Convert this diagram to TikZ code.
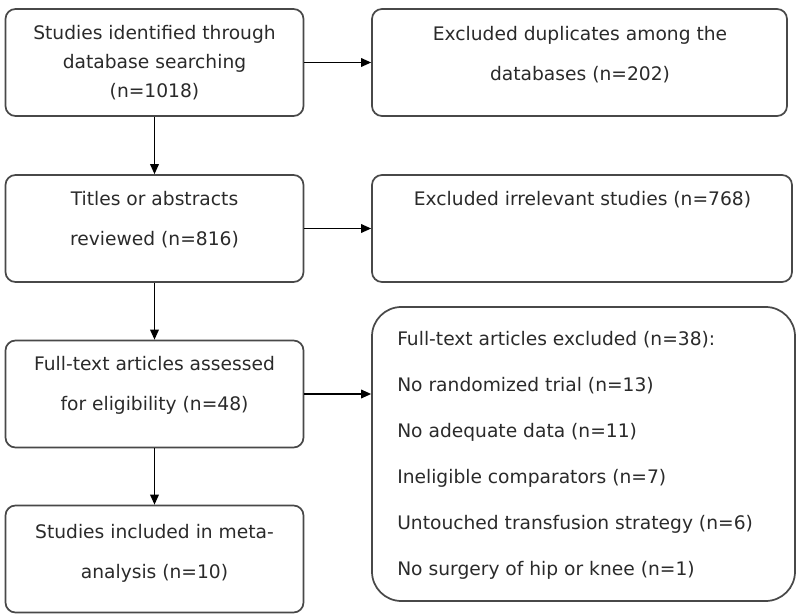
\documentclass[tikz,border=0pt]{standalone}
\usepackage{fontspec}
\setmainfont{DejaVu Sans}
\usetikzlibrary{arrows.meta}
\definecolor{boxgray}{HTML}{484848}
\definecolor{txtgray}{HTML}{2A2A2A}
\begin{document}
\begin{tikzpicture}[x=0.75pt,y=-0.75pt,
    box/.style={draw=boxgray,line width=1.3pt,rounded corners=7.5pt,
      minimum width=223.5pt,minimum height=80.25pt,inner sep=0pt},
    txt/.style={inner sep=0pt,text=txtgray,align=center,
      font=\fontsize{14}{30}\selectfont},
    arr/.style={-{Triangle[length=7.5pt,width=6.5pt]},line width=1pt}]
  \useasboundingbox (0,0) rectangle (800,616);

  % left column
  \foreach[count=\i] \y in {62.5,228.5,394,559} {
    \node[box] (l\i) at (154.5,\y) {};
  }
  \node[txt,font=\fontsize{14}{21.75}\selectfont] (lt1) at (154.5,62.5)
    {Studies identified through\\database searching\\(n=1018)};
  \node[txt] (lt2) at (154.5,220) {Titles or abstracts\\reviewed (n=816)};
  \node[txt] (lt3) at (154.5,385) {Full-text articles assessed\\for eligibility (n=48)};
  \node[txt] (lt4) at (154.5,553) {Studies included in meta-\\analysis (n=10)};

  % right column
  \node[box,minimum width=311.25pt] (r1) at (579.5,62.5) {};
  \node[txt] (rt1) at (580,55) {Excluded duplicates among the\\databases (n=202)};
  \node[box,minimum width=315pt] (r2) at (582,228.5) {};
  \node[txt] (rt2) at (582.5,200) {Excluded irrelevant studies (n=768)};
  \node[box,minimum width=317.25pt,minimum height=220.5pt,rounded corners=22pt]
    (r3) at (583.5,454) {};
  \node[txt,anchor=west,align=left,font=\fontsize{14}{34.5}\selectfont] (rt3) at (397,455)
    {Full-text articles excluded (n=38):\\
     No randomized trial (n=13)\\
     No adequate data (n=11)\\
     Ineligible comparators (n=7)\\
     Untouched transfusion strategy (n=6)\\
     No surgery of hip or knee (n=1)};

  % arrows
  \draw[arr] (l1) -- (l2);
  \draw[arr] (l2) -- (l3);
  \draw[arr] (l3) -- (l4);
  \draw[arr] (l1) -- (r1);
  \draw[arr] (l2) -- (r2);
  \draw[arr] (l3.east) -- (l3.east -| r3.west);
\end{tikzpicture}
\end{document}
